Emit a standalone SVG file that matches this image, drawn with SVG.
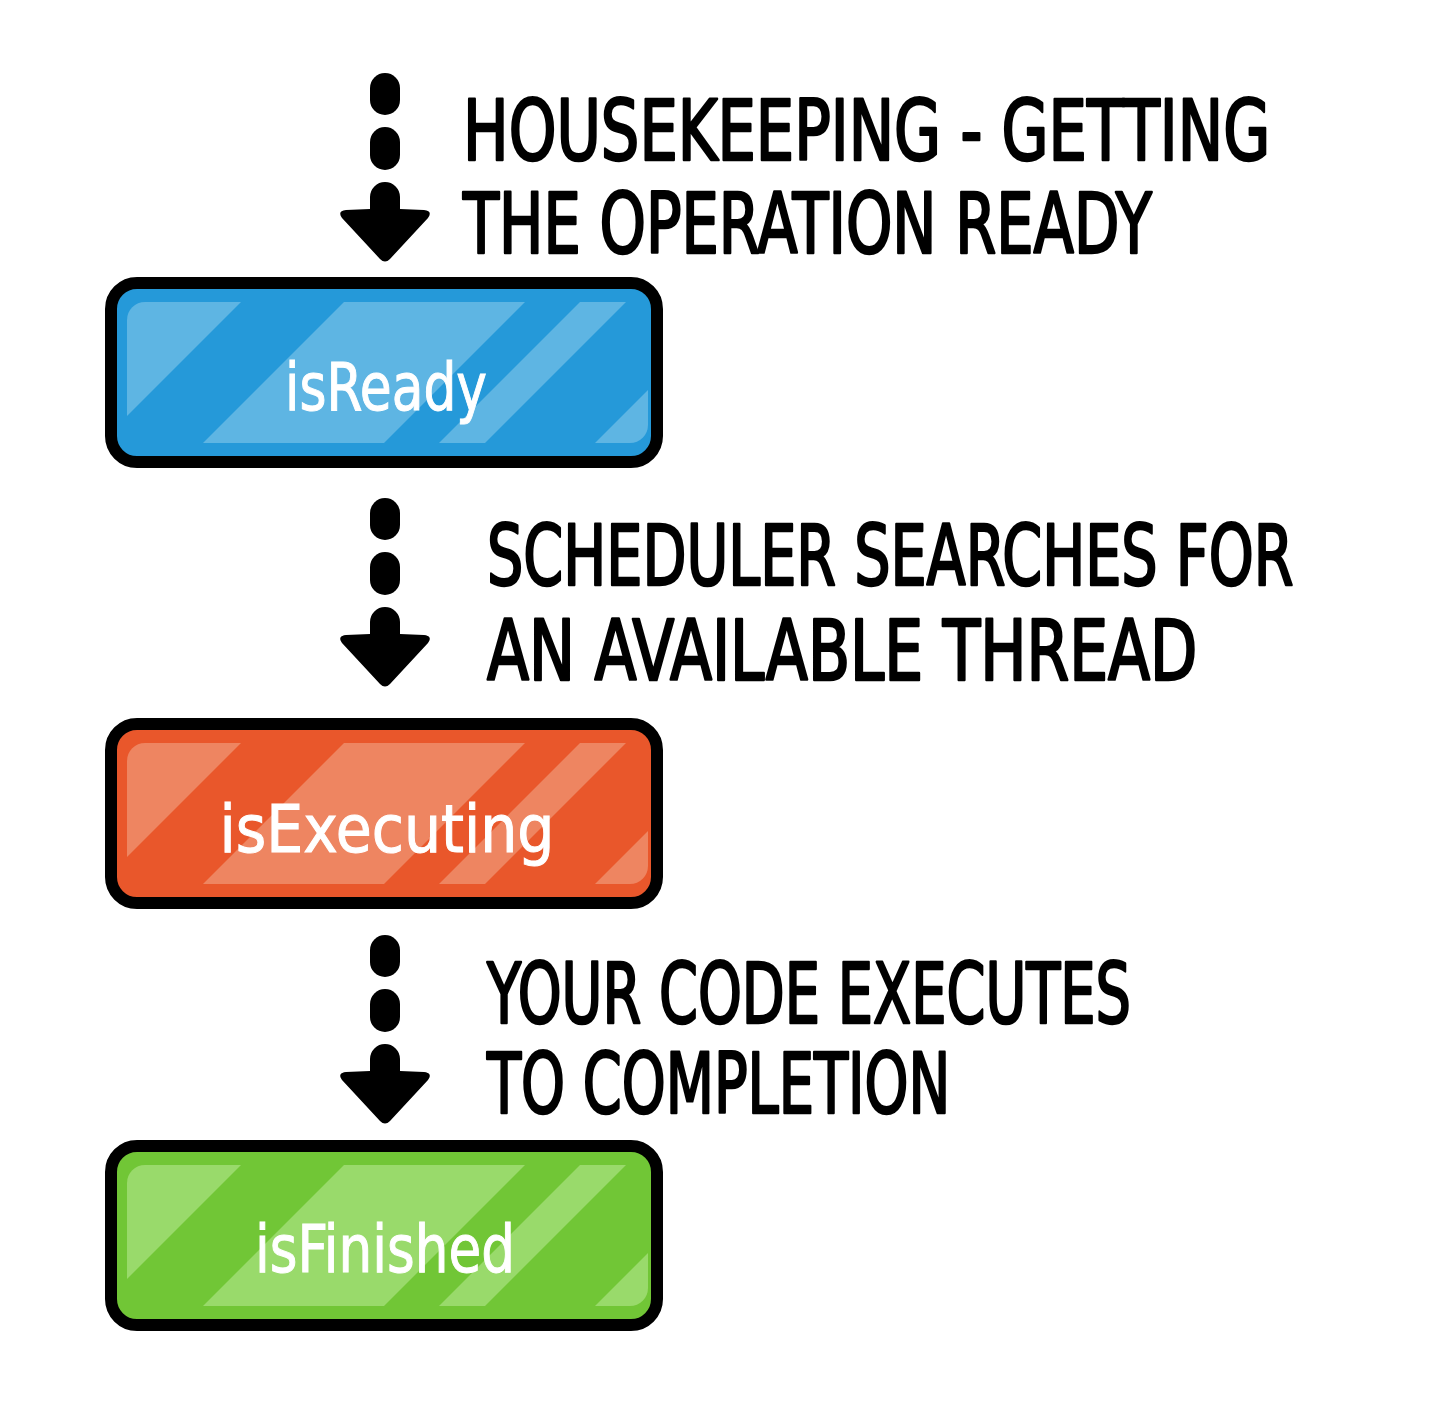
<svg xmlns="http://www.w3.org/2000/svg" xmlns:xlink="http://www.w3.org/1999/xlink" width="1432" height="1428" viewBox="0 0 1432 1428">
  <style>
    .note { font-family: "Liberation Sans Narrow", "DejaVu Sans Condensed", "Liberation Sans", sans-serif; font-size: 84px; fill: #000; stroke: #000; stroke-width: 2.5px; stroke-linejoin: round; }
    .label { font-family: "Liberation Sans Narrow", "DejaVu Sans Condensed", "Liberation Sans", sans-serif; font-size: 66px; fill: #fff; stroke: #fff; stroke-width: 1px; text-anchor: middle; }
    .frame { stroke: #000; stroke-width: 12; }
    .arrow { fill: #000; }
  </style>
  <defs>
    <!-- highlight panel inside each state box, local coords from the box's outer corner -->
    <clipPath id="panelClip">
      <rect x="22" y="25" width="521" height="141" rx="18"/>
    </clipPath>
    <g id="shine" clip-path="url(#panelClip)">
      <polygon points="0,0 161,0 0,161"/>
      <polygon points="264,0 445,0 245,200 64,200"/>
      <polygon points="500,0 546,0 346,200 300,200"/>
      <polygon points="656,0 700,0 700,200 456,200"/>
    </g>
    <!-- dotted down arrow, origin at the top of the first dash, centred on x=0 -->
    <g id="dashArrow" class="arrow">
      <rect x="-15" y="0" width="30" height="42" rx="15"/>
      <rect x="-15" y="54" width="30" height="43" rx="15"/>
      <path d="M -15 136 V 124 A 15 15 0 0 1 15 124 V 136 L 39 137 Q 48 138 43 145 L 5 186 Q 0 191 -5 186 L -43 145 Q -48 138 -39 137 Z"/>
    </g>
  </defs>

  <rect width="1432" height="1428" fill="#fff"/>

  <!-- connectors between the states -->
  <g id="connectors">
    <use xlink:href="#dashArrow" href="#dashArrow" transform="translate(385,73)"/>
    <use xlink:href="#dashArrow" href="#dashArrow" transform="translate(385,498)"/>
    <use xlink:href="#dashArrow" href="#dashArrow" transform="translate(385,935)"/>
  </g>

  <!-- step notes: set narrow by a horizontal squeeze, widths fixed by textLength -->
  <g id="note-ready">
    <text class="note" transform="translate(463,160) scale(0.8,1)" textLength="1009" lengthAdjust="spacingAndGlyphs">HOUSEKEEPING - GETTING</text>
    <text class="note" transform="translate(463,253) scale(0.8,1)" textLength="861" lengthAdjust="spacingAndGlyphs">THE OPERATION READY</text>
  </g>
  <g id="note-executing">
    <text class="note" transform="translate(487,585) scale(0.8,1)" textLength="1008" lengthAdjust="spacingAndGlyphs">SCHEDULER SEARCHES FOR</text>
    <text class="note" transform="translate(487,680) scale(0.8,1)" textLength="888" lengthAdjust="spacingAndGlyphs">AN AVAILABLE THREAD</text>
  </g>
  <g id="note-finished">
    <text class="note" transform="translate(487,1023) scale(0.8,1)" textLength="805" lengthAdjust="spacingAndGlyphs">YOUR CODE EXECUTES</text>
    <text class="note" transform="translate(487,1113) scale(0.8,1)" textLength="579" lengthAdjust="spacingAndGlyphs">TO COMPLETION</text>
  </g>

  <!-- state boxes -->
  <g id="isReady" transform="translate(105,277)">
    <rect class="frame" x="6" y="6" width="546" height="179" rx="26" fill="#2599D9"/>
    <use xlink:href="#shine" href="#shine" fill="#5EB5E3"/>
    <text class="label" x="281" y="133" textLength="202" lengthAdjust="spacingAndGlyphs">isReady</text>
  </g>
  <g id="isExecuting" transform="translate(105,718)">
    <rect class="frame" x="6" y="6" width="546" height="179" rx="26" fill="#E9572B"/>
    <use xlink:href="#shine" href="#shine" fill="#EE8561"/>
    <text class="label" x="282" y="134" textLength="335" lengthAdjust="spacingAndGlyphs">isExecuting</text>
  </g>
  <g id="isFinished" transform="translate(105,1140)">
    <rect class="frame" x="6" y="6" width="546" height="179" rx="26" fill="#71C636"/>
    <use xlink:href="#shine" href="#shine" fill="#99DA6B"/>
    <text class="label" x="280" y="132" textLength="260" lengthAdjust="spacingAndGlyphs">isFinished</text>
  </g>
</svg>
